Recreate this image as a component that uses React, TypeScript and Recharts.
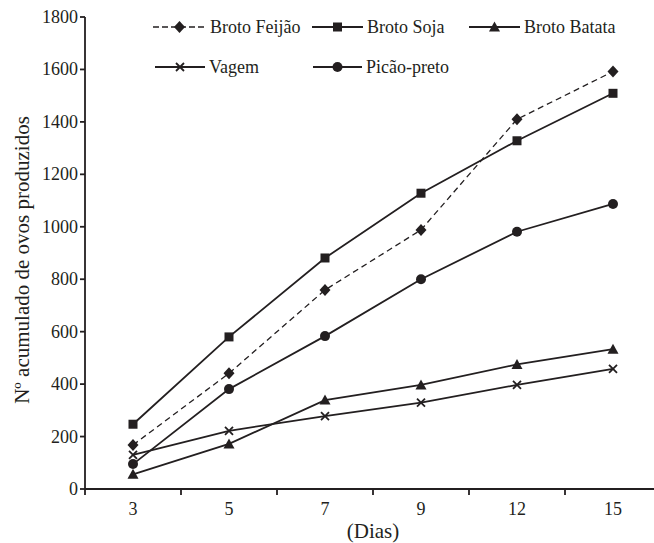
import React from 'react';
import { LineChart, Line, XAxis, YAxis } from 'recharts';

const dias = ['3', '5', '7', '9', '12', '15'];
const brotoFeijao = [168, 441, 759, 988, 1410, 1592];
const brotoSoja = [247, 580, 881, 1128, 1328, 1509];
const brotoBatata = [56, 172, 339, 397, 475, 533];
const vagem = [130, 222, 278, 329, 397, 458];
const picaoPreto = [95, 381, 583, 800, 981, 1087];
const yTicks = [0, 200, 400, 600, 800, 1000, 1200, 1400, 1600, 1800];

const INK = '#231f20';
const FONT = 'Liberation Serif, serif';
const W = 670;
const H = 543;
const PLOT_LEFT = 85;
const PLOT_BOTTOM = 489;
const HALF_BAND = 48;

const textStyle = { fontFamily: FONT, fontSize: 18, fill: INK };
const titleStyle = { fontFamily: FONT, fontSize: 21, fill: INK };

type Shape = 'diamond' | 'square' | 'triangle' | 'cross' | 'circle';

const series: { key: string; name: string; shape: Shape; dashed?: boolean }[] = [
  { key: 'feijao', name: 'Broto Feijão', shape: 'diamond', dashed: true },
  { key: 'soja', name: 'Broto Soja', shape: 'square' },
  { key: 'batata', name: 'Broto Batata', shape: 'triangle' },
  { key: 'vagem', name: 'Vagem', shape: 'cross' },
  { key: 'picao', name: 'Picão-preto', shape: 'circle' },
];

const data = dias.map((dia, i) => ({
  dia,
  feijao: brotoFeijao[i],
  soja: brotoSoja[i],
  batata: brotoBatata[i],
  vagem: vagem[i],
  picao: picaoPreto[i],
}));

const Marker = ({ shape, cx, cy }: { shape: Shape; cx: number; cy: number }) => {
  switch (shape) {
    case 'diamond':
      return <path d={`M${cx},${cy - 6}L${cx + 5.5},${cy}L${cx},${cy + 6}L${cx - 5.5},${cy}Z`} fill={INK} />;
    case 'square':
      return <rect x={cx - 4.5} y={cy - 4.5} width={9} height={9} fill={INK} />;
    case 'triangle':
      return <path d={`M${cx},${cy - 5.5}L${cx + 5.5},${cy + 4.5}L${cx - 5.5},${cy + 4.5}Z`} fill={INK} />;
    case 'cross':
      return (
        <path
          d={`M${cx - 4},${cy - 4}L${cx + 4},${cy + 4}M${cx - 4},${cy + 4}L${cx + 4},${cy - 4}`}
          stroke={INK}
          strokeWidth={1.8}
          fill="none"
        />
      );
    default:
      return <circle cx={cx} cy={cy} r={5} fill={INK} />;
  }
};

const dotFor = (shape: Shape) => (props: any) =>
  <Marker key={`${shape}-${props.index}`} shape={shape} cx={props.cx} cy={props.cy} />;

const XTick = (props: any) => {
  const { x, payload, index } = props;
  const last = index === dias.length - 1;
  return (
    <g>
      <line x1={x - HALF_BAND} x2={x - HALF_BAND} y1={PLOT_BOTTOM} y2={PLOT_BOTTOM + 6} stroke={INK} strokeWidth={1.8} />
      {last && (
        <line x1={x + HALF_BAND} x2={x + HALF_BAND} y1={PLOT_BOTTOM} y2={PLOT_BOTTOM + 6} stroke={INK} strokeWidth={1.8} />
      )}
      <text x={x} y={PLOT_BOTTOM + 20} textAnchor="middle" dominantBaseline="central" style={textStyle}>
        {payload.value}
      </text>
    </g>
  );
};

const YTick = (props: any) => {
  const { x, y, payload } = props;
  return (
    <text x={x} y={y} textAnchor="end" dominantBaseline="central" style={textStyle}>
      {payload.value}
    </text>
  );
};

const legendPos = [
  { x0: 153, x1: 206, y: 27 },
  { x0: 312, x1: 363, y: 27 },
  { x0: 469, x1: 520, y: 27 },
  { x0: 155, x1: 205, y: 67 },
  { x0: 313, x1: 362, y: 67 },
];

const ChartLegend = () => (
  <g>
    {series.map((s, i) => {
      const p = legendPos[i];
      return (
        <g key={s.key}>
          <line
            x1={p.x0}
            x2={p.x1}
            y1={p.y}
            y2={p.y}
            stroke={INK}
            strokeWidth={s.dashed ? 1.6 : 1.8}
            strokeDasharray={s.dashed ? '6 3' : undefined}
          />
          <Marker shape={s.shape} cx={(p.x0 + p.x1) / 2} cy={p.y} />
          <text x={p.x1 + 4} y={p.y} dominantBaseline="central" style={textStyle}>
            {s.name}
          </text>
        </g>
      );
    })}
  </g>
);

export default function App() {
  return (
    <div style={{ position: 'fixed', left: 0, top: 0, width: 654, height: 543, overflow: 'hidden', background: '#fff' }}>
      <LineChart width={W} height={H} data={data} margin={{ top: 17, right: 9, bottom: 0, left: 0 }}>
        <XAxis
          dataKey="dia"
          type="category"
          scale="point"
          padding={{ left: HALF_BAND, right: HALF_BAND }}
          height={H - PLOT_BOTTOM}
          tickLine={false}
          tick={XTick}
          interval={0}
          axisLine={{ stroke: INK, strokeWidth: 1.8 }}
          label={() => (
            <text x={(PLOT_LEFT + W - 9) / 2} y={531} textAnchor="middle" dominantBaseline="central" style={titleStyle}>
              (Dias)
            </text>
          )}
        />
        <YAxis
          width={PLOT_LEFT}
          domain={[0, 1800]}
          ticks={yTicks}
          interval={0}
          tickSize={5}
          tickMargin={2}
          tick={YTick}
          tickLine={{ stroke: INK, strokeWidth: 1.8 }}
          axisLine={{ stroke: INK, strokeWidth: 1.8 }}
          label={() => (
            <text
              x={22}
              y={260}
              transform="rotate(-90 22 260)"
              textAnchor="middle"
              dominantBaseline="central"
              style={titleStyle}
            >
              Nº acumulado de ovos produzidos
            </text>
          )}
        />
        {series.map(s => (
          <Line
            key={s.key}
            type="linear"
            dataKey={s.key}
            name={s.name}
            stroke={INK}
            strokeWidth={s.dashed ? 1.3 : 1.8}
            strokeDasharray={s.dashed ? '6 4' : undefined}
            dot={dotFor(s.shape)}
            activeDot={false}
            isAnimationActive={false}
          />
        ))}
        <ChartLegend />
      </LineChart>
    </div>
  );
}
